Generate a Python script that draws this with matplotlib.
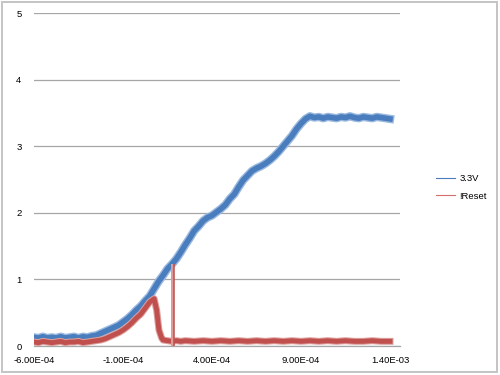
import matplotlib
matplotlib.use('Agg')
import matplotlib.pyplot as plt
from matplotlib.lines import Line2D
from matplotlib.patches import Rectangle

# time axis in microseconds (scope samples, read every 25 us)
time_us = [-600, -575, -550, -525, -500, -475, -450, -425, -400, -375,
           -350, -325, -300, -275, -250, -225, -200, -175, -150, -125,
           -100, -75, -50, -25, 0, 25, 50, 75, 100, 125,
           150, 175, 200, 225, 250, 275, 300, 325, 350, 375,
           400, 425, 450, 475, 500, 525, 550, 575, 600, 625,
           650, 675, 700, 725, 750, 775, 800, 825, 850, 875,
           900, 925, 950, 975, 1000, 1025, 1050, 1075, 1100, 1125,
           1150, 1175, 1200, 1225, 1250, 1275, 1300, 1325, 1350, 1375,
           1400]

v33 = [0.13, 0.12, 0.14, 0.12, 0.13, 0.12, 0.14, 0.12, 0.13, 0.14,
       0.12, 0.14, 0.13, 0.15, 0.16, 0.19, 0.22, 0.25, 0.28, 0.31,
       0.36, 0.41, 0.47, 0.54, 0.60, 0.68, 0.75, 0.86, 0.97, 1.06,
       1.16, 1.23, 1.31, 1.41, 1.52, 1.62, 1.73, 1.80, 1.88, 1.93,
       1.96, 2.01, 2.06, 2.12, 2.21, 2.28, 2.39, 2.49, 2.56, 2.63,
       2.67, 2.70, 2.74, 2.79, 2.85, 2.92, 3.00, 3.08, 3.16, 3.26,
       3.34, 3.41, 3.45, 3.43, 3.44, 3.42, 3.44, 3.43, 3.42, 3.44,
       3.43, 3.45, 3.43, 3.42, 3.44, 3.43, 3.42, 3.44, 3.43, 3.42,
       3.41]

reset_time_us = [-600, -575, -550, -525, -500, -475, -450, -425, -400, -375,
                 -350, -325, -300, -275, -250, -225, -200, -175, -150, -125,
                 -100, -75, -50, -25, 0, 25, 50, 75, 89, 102,
                 117, 125, 150, 175, 200, 225, 250, 300, 350, 400,
                 450, 500, 550, 600, 650, 700, 750, 800, 850, 900,
                 950, 1000, 1050, 1100, 1150, 1200, 1250, 1300, 1350, 1400]

reset = [0.06, 0.05, 0.07, 0.06, 0.05, 0.06, 0.07, 0.05, 0.06, 0.06,
         0.07, 0.05, 0.06, 0.07, 0.08, 0.09, 0.11, 0.14, 0.17, 0.20,
         0.24, 0.29, 0.35, 0.42, 0.48, 0.57, 0.66, 0.71, 0.54, 0.24,
         0.12, 0.09, 0.08, 0.07, 0.08, 0.07, 0.08, 0.07, 0.08, 0.07,
         0.08, 0.07, 0.08, 0.07, 0.08, 0.07, 0.08, 0.07, 0.08, 0.07,
         0.08, 0.07, 0.08, 0.07, 0.08, 0.07, 0.07, 0.08, 0.07, 0.07]

# fast toggling of !Reset seen as a light band, last edge in dark red
glitch_us = [172, 186]
glitch_edge_us = 187
glitch_top = 1.23

xtick_vals = [-6e-4, -1e-4, 4e-4, 9e-4, 1.4e-3]
xtick_labels = ['-6.00E-04', '-1.00E-04', '4.00E-04', '9.00E-04', '1.40E-03']
ytick_vals = [0, 1, 2, 3, 4, 5]

blue = '#4a7dbd'
red = '#c0504d'

plt.rcParams['font.family'] = ['Liberation Sans', 'DejaVu Sans']

fig = plt.figure(figsize=(5, 3.75), dpi=100)
ax = fig.add_axes([0.068, 0.0773, 0.732, 0.8880])

t_s = [t * 1e-6 for t in time_us]
rt_s = [t * 1e-6 for t in reset_time_us]

# soft halo under each trace to mimic the noise band
ax.plot(t_s, v33, color='#9bb9df', linewidth=6, solid_joinstyle='round', zorder=2)
ax.plot(t_s, v33, color=blue, linewidth=4, solid_joinstyle='round', zorder=3)
ax.fill_between([t * 1e-6 for t in glitch_us], 0, glitch_top,
                color='#dd9c9a', linewidth=0, zorder=6)
ax.vlines(glitch_edge_us * 1e-6, 0, glitch_top, color=red, linewidth=1.1, zorder=7)
ax.plot(rt_s, reset, color='#dda09e', linewidth=5, solid_joinstyle='round', zorder=4)
ax.plot(rt_s, reset, color=red, linewidth=3.5, solid_joinstyle='round', zorder=5)

ax.set_xlim(-6e-4, 1.456e-3)
ax.set_ylim(0, 5)
ax.set_xticks(xtick_vals)
ax.set_xticklabels(xtick_labels)
ax.set_yticks(ytick_vals)
ax.tick_params(length=0, labelsize=6.8, colors='black')
ax.tick_params(axis='y', pad=9)
ax.tick_params(axis='x', pad=7)
ax.grid(axis='y', color='#a6a6a6', linewidth=0.9)
for s in ['top', 'right', 'left']:
    ax.spines[s].set_visible(False)
ax.spines['bottom'].set_color('#a6a6a6')
ax.spines['bottom'].set_linewidth(0.9)

handles = [Line2D([], [], color=blue, linewidth=0.8),
           Line2D([], [], color='#d46e6b', linewidth=0.8)]
fig.legend(handles, ['3.3V', '!Reset'], loc='center left',
           bbox_to_anchor=(0.871, 0.500), frameon=False, fontsize=6.8,
           handlelength=2.1, handletextpad=0.45, labelspacing=0.85,
           borderpad=0, borderaxespad=0)

fig.add_artist(Rectangle((0.003, 0.008), 0.991, 0.988, transform=fig.transFigure,
                         fill=False, edgecolor='#c4c4c4', linewidth=1.4))

fig.savefig('out.png', dpi=100)
